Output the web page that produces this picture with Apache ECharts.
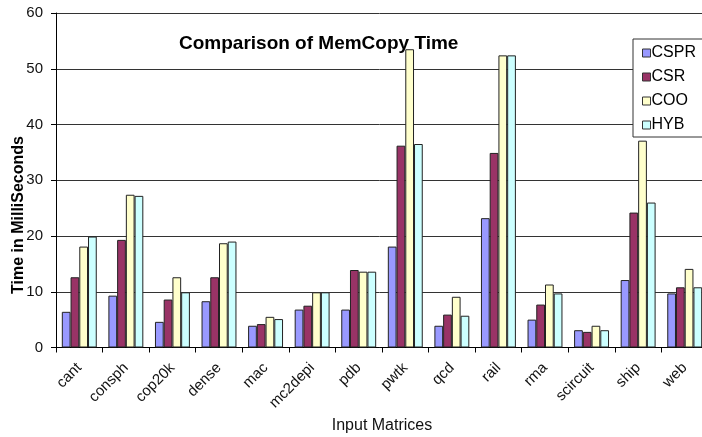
<!DOCTYPE html>
<html>
<head>
<meta charset="utf-8">
<title>Comparison of MemCopy Time</title>
<script src="https://cdn.jsdelivr.net/npm/echarts@6/dist/echarts.min.js"></script>
<style>
  html, body { margin: 0; padding: 0; background: #fff; }
  #chart { width: 702px; height: 437px; }
</style>
</head>
<body>
<div id="chart"></div>
<script>
// Input matrices on the x axis
const categories = ['cant', 'consph', 'cop20k', 'dense', 'mac', 'mc2depi', 'pdb',
                    'pwtk', 'qcd', 'rail', 'rma', 'scircuit', 'ship', 'web'];

// MemCopy time (ms) per storage format
const cspr = [6.4, 9.3, 4.6, 8.3, 3.9, 6.8, 6.8, 18.1, 3.9, 23.2, 5.0, 3.1, 12.1, 9.7];
const csr  = [12.6, 19.3, 8.6, 12.6, 4.2, 7.5, 13.9, 36.2, 5.9, 34.9, 7.7, 2.8, 24.2, 10.8];
const coo  = [18.1, 27.4, 12.6, 18.7, 5.5, 9.9, 13.6, 53.5, 9.1, 52.4, 11.3, 3.9, 37.1, 14.1];
const hyb  = [19.9, 27.2, 9.9, 19.0, 5.1, 9.9, 13.6, 36.5, 5.7, 52.4, 9.7, 3.1, 26.0, 10.8];

const yTicks = { min: 0, max: 60, interval: 10 };

const seriesNames = ['CSPR', 'CSR', 'COO', 'HYB'];
const seriesColors = ['#9999FF', '#993366', '#FFFFCC', '#CCFFFF'];
const seriesData = [cspr, csr, coo, hyb];

const font = 'Liberation Sans, Arial, sans-serif';

const chart = echarts.init(document.getElementById('chart'), null, { renderer: 'canvas' });

chart.setOption({
  animation: false,
  backgroundColor: '#ffffff',
  title: {
    text: 'Comparison of MemCopy Time',
    left: 179,
    top: 34,
    padding: 0,
    textStyle: { fontFamily: font, fontSize: 19, fontWeight: 'bold', color: '#000' }
  },
  legend: {
    orient: 'vertical',
    left: 633,
    top: 39,
    padding: [6, 12, 4, 9],
    itemGap: 8,
    itemWidth: 8,
    itemHeight: 8,
    icon: 'rect',
    borderColor: '#333',
    borderWidth: 1,
    backgroundColor: '#fff',
    itemStyle: { borderColor: '#333', borderWidth: 1 },
    textStyle: { fontFamily: font, fontSize: 16, color: '#000', padding: [0, 0, 0, -4] },
    data: seriesNames
  },
  graphic: [{
    type: 'text',
    x: 19,
    y: 215,
    rotation: Math.PI / 2,
    style: {
      text: 'Time in MilliSeconds',
      fontFamily: font,
      fontSize: 16,
      fontWeight: 'bold',
      fill: '#000',
      align: 'center',
      verticalAlign: 'middle'
    }
  }],
  grid: { left: 56, top: 13, right: -6, bottom: 89.5, containLabel: false, outerBoundsMode: 'none' },
  xAxis: {
    type: 'category',
    data: categories,
    name: 'Input Matrices',
    nameLocation: 'middle',
    nameGap: 69,
    nameTextStyle: { fontFamily: font, fontSize: 16, color: '#111' },
    axisLine: { lineStyle: { color: '#000', width: 1 } },
    axisTick: { show: true, alignWithLabel: false, length: 5, lineStyle: { color: '#000' } },
    axisLabel: { rotate: 45, margin: 18, fontFamily: font, fontSize: 15, color: '#111', interval: 0 },
    splitLine: { show: false }
  },
  yAxis: {
    type: 'value',
    min: yTicks.min,
    max: yTicks.max,
    interval: yTicks.interval,
    axisLine: { show: true, lineStyle: { color: '#000', width: 1 } },
    axisTick: { show: true, length: 5, lineStyle: { color: '#000' } },
    axisLabel: { margin: 13, fontFamily: font, fontSize: 15, color: '#111' },
    splitLine: { show: true, lineStyle: { color: '#333', width: 1 } }
  },
  series: seriesNames.map((name, i) => ({
    name: name,
    type: 'bar',
    data: seriesData[i],
    barGap: '0%',
    barCategoryGap: '25%',
    itemStyle: { color: seriesColors[i], borderColor: '#222', borderWidth: 1 }
  }))
});
</script>
</body>
</html>
